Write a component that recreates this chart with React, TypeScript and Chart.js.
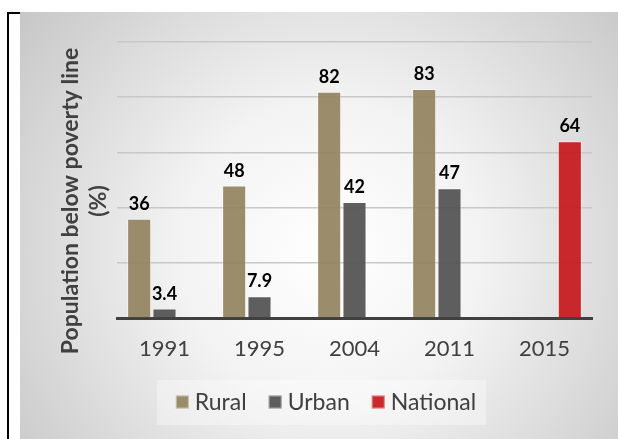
import React, { useEffect, useRef } from "react";
import { Chart, registerables } from "chart.js";

Chart.register(...registerables);

const categories = ["1991", "1995", "2004", "2011", "2015"];
const rural = [36, 48, 82, 83, null];
const urban = [3.4, 7.9, 42, 47, null];
const national = [null, null, null, null, 64];
const seriesNames = ["Rural", "Urban", "National"];
const yTitleLines = ["Population below poverty line", "(%)"];

const FONT = "Lato, 'Open Sans', sans-serif";
const TEXT = "#404040";

const bgPlugin = {
  id: "bg",
  beforeDraw(chart: any) {
    const { ctx, width, height } = chart;
    ctx.save();
    const g = ctx.createRadialGradient(310, 240, 0, 310, 240, 430);
    g.addColorStop(0, "#ffffff");
    g.addColorStop(0.35, "#f3f3f3");
    g.addColorStop(1, "#c0c0c0");
    ctx.fillStyle = g;
    ctx.fillRect(0, 0, width, height);
    ctx.restore();
  },
};

const labelsPlugin = {
  id: "valueLabels",
  afterDatasetsDraw(chart: any) {
    const { ctx } = chart;
    ctx.save();
    ctx.font = `bold 18px ${FONT}`;
    ctx.fillStyle = "#000000";
    ctx.textAlign = "center";
    ctx.textBaseline = "alphabetic";
    chart.data.datasets.forEach((ds: any, di: number) => {
      const meta = chart.getDatasetMeta(di);
      meta.data.forEach((el: any, i: number) => {
        const v = ds.data[i];
        if (v === null || v === undefined) return;
        ctx.fillText(String(v), el.x, el.y - 9);
      });
    });
    ctx.restore();
  },
};

const titlePlugin = {
  id: "yTitle",
  afterDraw(chart: any) {
    const { ctx } = chart;
    ctx.save();
    ctx.translate(65, 189);
    ctx.rotate(-Math.PI / 2);
    ctx.font = `bold 23px ${FONT}`;
    ctx.fillStyle = TEXT;
    ctx.textAlign = "center";
    ctx.textBaseline = "middle";
    ctx.fillText(yTitleLines[0], 0, -14);
    ctx.fillText(yTitleLines[1], 0, 14);
    ctx.restore();
  },
};

const legendPlugin = {
  id: "customLegend",
  afterDraw(chart: any) {
    const { ctx } = chart;
    ctx.save();
    ctx.fillStyle = "rgba(255,255,255,0.35)";
    ctx.fillRect(137, 368, 329, 45);
    ctx.font = `23px ${FONT}`;
    const box = 13;
    const gapText = 6;
    const gapItem = 22;
    const widths = chart.data.datasets.map(
      (ds: any) => box + gapText + ctx.measureText(ds.label).width
    );
    const total =
      widths.reduce((a: number, b: number) => a + b, 0) +
      gapItem * (widths.length - 1);
    let x = 306 - total / 2;
    const cy = 390;
    chart.data.datasets.forEach((ds: any, i: number) => {
      ctx.fillStyle = ds.backgroundColor;
      ctx.fillRect(x, cy - box / 2, box, box);
      ctx.strokeStyle = "rgba(255,255,255,0.45)";
      ctx.lineWidth = 1;
      ctx.strokeRect(x + 0.5, cy - box / 2 + 0.5, box - 1, box - 1);
      ctx.fillStyle = TEXT;
      ctx.textAlign = "left";
      ctx.textBaseline = "middle";
      ctx.fillText(ds.label, x + box + gapText, cy + 1);
      x += widths[i] + gapItem;
    });
    ctx.restore();
  },
};

export default function App() {
  const canvasRef = useRef<HTMLCanvasElement | null>(null);

  useEffect(() => {
    if (!canvasRef.current) return;
    const chart = new Chart(canvasRef.current, {
      type: "bar",
      data: {
        labels: categories,
        datasets: [
          {
            label: seriesNames[0],
            data: rural,
            backgroundColor: "rgba(146,131,95,0.92)",
            borderColor: "rgba(255,255,255,0.45)",
            borderWidth: 1,
          },
          {
            label: seriesNames[1],
            data: urban,
            backgroundColor: "rgba(80,80,80,0.92)",
            borderColor: "rgba(255,255,255,0.45)",
            borderWidth: 1,
          },
          {
            label: seriesNames[2],
            data: national,
            backgroundColor: "rgba(197,24,27,0.92)",
            borderColor: "rgba(255,255,255,0.45)",
            borderWidth: 1,
          },
        ],
      },
      options: {
        animation: false,
        responsive: false,
        maintainAspectRatio: false,
        layout: { padding: { left: 0, right: 26, top: 30, bottom: 0 } },
        datasets: {
          bar: { categoryPercentage: 0.8, barPercentage: 0.95 },
        },
        plugins: {
          legend: { display: false },
          tooltip: { enabled: false },
          title: { display: false },
        },
        scales: {
          x: {
            grid: { display: false, drawTicks: false },
            border: { display: true, color: "#404040", width: 3 },
            ticks: {
              color: TEXT,
              font: { family: FONT, size: 22 },
              padding: 18,
              maxRotation: 0,
            },
            afterFit(scale: any) {
              scale.height = 121;
            },
          },
          y: {
            min: 0,
            max: 100,
            ticks: { display: false, stepSize: 20 },
            grid: { color: "#c8c8c8", lineWidth: 1.5, drawTicks: false },
            border: { display: false },
            afterFit(scale: any) {
              scale.width = 97;
            },
          },
        },
      },
      plugins: [bgPlugin, labelsPlugin, titlePlugin, legendPlugin],
    });
    return () => chart.destroy();
  }, []);

  return (
    <div
      style={{
        position: "absolute",
        left: 0,
        top: 0,
        width: 618,
        height: 439,
        background: "#ffffff",
        overflow: "hidden",
      }}
    >
      <div
        style={{
          position: "absolute",
          left: 7,
          top: 12,
          width: 2,
          height: 427,
          background: "#000",
        }}
      />
      <div
        style={{
          position: "absolute",
          left: 7,
          top: 12,
          width: 13,
          height: 2,
          background: "#000",
        }}
      />
      <canvas
        ref={canvasRef}
        width={598}
        height={427}
        style={{
          position: "absolute",
          left: 20,
          top: 12,
          width: 598,
          height: 427,
          display: "block",
        }}
      />
    </div>
  );
}
